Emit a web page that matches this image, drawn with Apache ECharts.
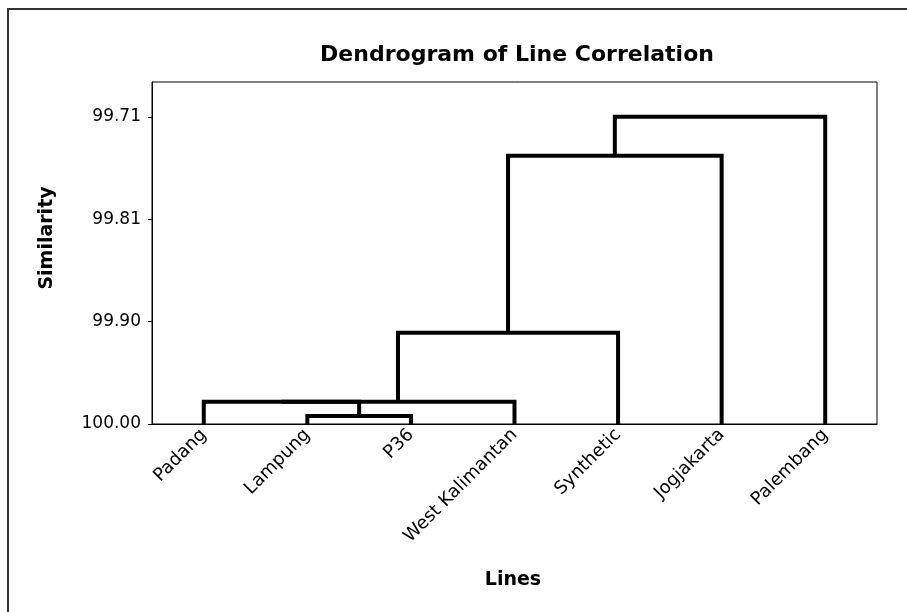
<!DOCTYPE html>
<html>
<head>
<meta charset="utf-8">
<script src="https://cdn.jsdelivr.net/npm/echarts@6/dist/echarts.min.js"></script>
<style>html,body{margin:0;padding:0;background:#fff}#c{width:907px;height:612px}</style>
</head>
<body>
<div id="c"></div>
<script>
// Leaves (in dendrogram order)
const categories = ['Padang', 'Lampung', 'P36', 'West Kalimantan', 'Synthetic', 'Jogjakarta', 'Palembang'];
// Merges: cluster ids 0..6 are leaves, merge k creates cluster 7+k
const mergeLeft = [1, 0, 8, 9, 10, 11];
const mergeRight = [2, 7, 3, 4, 5, 6];
const mergeSimilarity = [99.9925, 99.979, 99.979, 99.914, 99.747, 99.7101];
// Similarity axis tick labels (bottom to top)
const yTickLabels = ['100.00', '99.90', '99.81', '99.71'];
const minSimilarity = 99.7101;
const axisTopSimilarity = 99.6773;

const tickStep = (100 - minSimilarity) / 3;
const tickValues = yTickLabels.map((_, i) => i * tickStep);

// cluster positions / heights (distance = 100 - similarity)
const cx = categories.map((_, i) => i);
const ch = categories.map(() => 0);
const series = [];
mergeSimilarity.forEach((s, k) => {
  const l = mergeLeft[k], r = mergeRight[k];
  const h = 100 - s;
  cx.push((cx[l] + cx[r]) / 2);
  ch.push(h);
  series.push({
    type: 'line', xAxisIndex: 1, yAxisIndex: 0,
    data: [[cx[l], ch[l]], [cx[l], h], [cx[r], h], [cx[r], ch[r]]],
    showSymbol: false, symbol: 'none', silent: true,
    lineStyle: { color: '#000', width: 4, cap: 'butt', join: 'miter' },
    z: 3
  });
});

const FONT = 'DejaVu Sans';
const chart = echarts.init(document.getElementById('c'), null, { renderer: 'canvas' });
chart.setOption({
  animation: false,
  backgroundColor: '#fff',
  grid: { left: 152, right: 30, top: 82, bottom: 188, show: true, borderColor: '#000', borderWidth: 1, backgroundColor: 'transparent' },
  xAxis: [{
    type: 'category', data: categories, boundaryGap: true,
    axisLine: { onZero: false, lineStyle: { color: '#000', width: 1 } },
    axisTick: { alignWithLabel: true, length: 5, lineStyle: { color: '#000' } },
    axisLabel: { rotate: 45, margin: 8, color: '#000', fontFamily: FONT, fontSize: 18, interval: 0 },
    splitLine: { show: false }
  }, {
    type: 'value', min: -0.5, max: categories.length - 0.5, show: false,
    axisLine: { show: false, onZero: false }, splitLine: { show: false }
  }],
  yAxis: [{
    type: 'value', min: 0, max: 100 - axisTopSimilarity,
    axisLine: { show: true, onZero: false, lineStyle: { color: '#000', width: 1 } },
    axisTick: { show: true, length: 4, lineStyle: { color: '#000' }, customValues: tickValues },
    axisLabel: {
      color: '#000', fontFamily: FONT, fontSize: 17, margin: 11,
      customValues: tickValues,
      formatter: v => yTickLabels[Math.round(v / tickStep)]
    },
    splitLine: { show: false }
  }],
  graphic: [
    { type: 'rect', shape: { x: 8, y: 9, width: 1200, height: 1200 }, style: { fill: 'none', stroke: '#333', lineWidth: 2 }, silent: true },
    { type: 'text', x: 517, y: 55, style: { text: 'Dendrogram of Line Correlation', font: 'bold 22px "DejaVu Sans"', fill: '#000', align: 'center', verticalAlign: 'middle' } },
    { type: 'text', x: 47, y: 238, rotation: Math.PI / 2, style: { text: 'Similarity', font: 'bold 19px "DejaVu Sans"', fill: '#000', align: 'center', verticalAlign: 'middle' } },
    { type: 'text', x: 513, y: 580, style: { text: 'Lines', font: 'bold 19px "DejaVu Sans"', fill: '#000', align: 'center', verticalAlign: 'middle' } }
  ],
  series: series
});
</script>
</body>
</html>
